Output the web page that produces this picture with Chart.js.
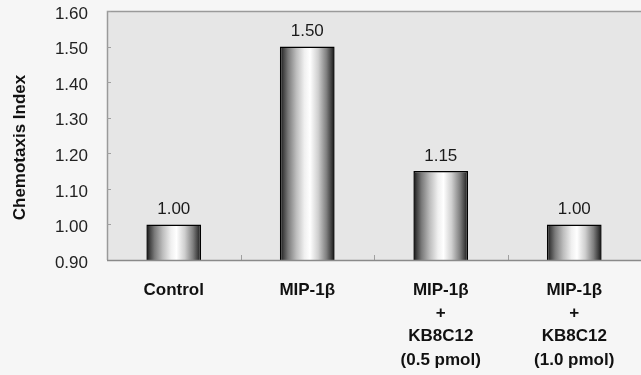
<!DOCTYPE html>
<html>
<head>
<meta charset="utf-8">
<script src="https://cdn.jsdelivr.net/npm/chart.js@4/dist/chart.umd.min.js"></script>
<style>
  html, body { margin: 0; padding: 0; background: #f6f6f6; overflow: hidden; }
  #wrap { width: 641px; height: 375px; }
</style>
</head>
<body>
<div id="wrap"><canvas id="c" width="641" height="375"></canvas></div>
<script>
const categories = [
  ['Control'],
  ['MIP-1β'],
  ['MIP-1β', '+', 'KB8C12', '(0.5 pmol)'],
  ['MIP-1β', '+', 'KB8C12', '(1.0 pmol)']
];
const chemotaxisIndex = [1.00, 1.50, 1.15, 1.00];
const yTicks = [0.90, 1.00, 1.10, 1.20, 1.30, 1.40, 1.50, 1.60];
const yTitle = 'Chemotaxis Index';

const FONT = '"Liberation Sans", Arial, Helvetica, sans-serif';
const BAR_PCT = 0.41;

function barGradient(ctx) {
  const chart = ctx.chart;
  const xs = chart.scales && chart.scales.x;
  if (!chart.chartArea || !xs) return '#aaaaaa';
  const cx = xs.getPixelForValue(ctx.dataIndex);
  const w = (xs.width / categories.length) * BAR_PCT;
  const g = chart.ctx.createLinearGradient(cx - w / 2, 0, cx + w / 2, 0);
  g.addColorStop(0.00, '#101010');
  g.addColorStop(0.06, '#404040');
  g.addColorStop(0.15, '#7a7a7a');
  g.addColorStop(0.30, '#bdbdbd');
  g.addColorStop(0.45, '#f0f0f0');
  g.addColorStop(0.55, '#ffffff');
  g.addColorStop(0.70, '#cfcfcf');
  g.addColorStop(0.85, '#808080');
  g.addColorStop(0.94, '#404040');
  g.addColorStop(1.00, '#111111');
  return g;
}

const plotFrame = {
  id: 'plotFrame',
  beforeDraw(chart) {
    const { ctx, chartArea: a } = chart;
    ctx.save();
    ctx.fillStyle = '#e6e6e6';
    ctx.fillRect(a.left, a.top, a.right - a.left, a.bottom - a.top);
    ctx.strokeStyle = '#9a9a9a';
    ctx.lineWidth = 1.5;
    ctx.beginPath();
    ctx.moveTo(a.right, a.top + 0.5);
    ctx.lineTo(a.left + 0.5, a.top + 0.5);
    ctx.lineTo(a.left + 0.5, a.bottom);
    ctx.stroke();
    ctx.strokeStyle = '#a0a0a0';
    ctx.lineWidth = 1;
    const ys = chart.scales.y;
    yTicks.forEach(v => {
      const py = Math.round(ys.getPixelForValue(v)) + 0.5;
      ctx.beginPath();
      ctx.moveTo(a.left, py);
      ctx.lineTo(a.left + 4, py);
      ctx.stroke();
    });
    const xs = chart.scales.x;
    for (let i = 1; i < categories.length; i++) {
      const px = Math.round((xs.getPixelForValue(i - 1) + xs.getPixelForValue(i)) / 2) + 0.5;
      ctx.beginPath();
      ctx.moveTo(px, a.bottom);
      ctx.lineTo(px, a.bottom - 5);
      ctx.stroke();
    }
    ctx.restore();
  },
  afterDatasetsDraw(chart) {
    const { ctx, chartArea: a } = chart;
    ctx.save();
    ctx.strokeStyle = '#8a8a8a';
    ctx.lineWidth = 1.5;
    ctx.beginPath();
    ctx.moveTo(a.left, a.bottom + 0.5);
    ctx.lineTo(a.right, a.bottom + 0.5);
    ctx.stroke();
    ctx.fillStyle = '#1a1a1a';
    ctx.font = '17px ' + FONT;
    ctx.textAlign = 'center';
    ctx.textBaseline = 'middle';
    const meta = chart.getDatasetMeta(0);
    meta.data.forEach((bar, i) => {
      ctx.fillText(chemotaxisIndex[i].toFixed(2), bar.x, bar.y - 15);
    });
    ctx.font = 'bold 17px ' + FONT;
    ctx.fillStyle = '#111111';
    ctx.translate(20, (a.top + a.bottom) / 2 + 12);
    ctx.rotate(-Math.PI / 2);
    ctx.fillText(yTitle, 0, 0);
    ctx.restore();
  }
};

new Chart(document.getElementById('c'), {
  type: 'bar',
  data: {
    labels: categories,
    datasets: [{
      data: chemotaxisIndex,
      backgroundColor: barGradient,
      borderColor: '#000000',
      borderWidth: 1.5,
      borderSkipped: false,
      barPercentage: BAR_PCT,
      categoryPercentage: 1.0
    }]
  },
  options: {
    responsive: false,
    animation: false,
    devicePixelRatio: 1,
    layout: { padding: { top: 11, right: 0, left: 0, bottom: 0 } },
    plugins: { legend: { display: false }, tooltip: { enabled: false } },
    scales: {
      x: {
        grid: { display: false, drawTicks: false },
        border: { display: false },
        ticks: {
          color: '#111111',
          font: { family: FONT, size: 17, weight: 'bold', lineHeight: 1.36 },
          padding: 19,
          maxRotation: 0,
          autoSkip: false
        },
        afterFit(scale) { scale.height = 115; scale.paddingLeft = 0; scale.paddingRight = 0; }
      },
      y: {
        min: 0.9,
        max: 1.6,
        grid: { display: false, drawTicks: false },
        border: { display: false },
        afterBuildTicks(scale) { scale.ticks = yTicks.map(v => ({ value: v })); },
        ticks: {
          color: '#222222',
          font: { family: FONT, size: 17 },
          padding: 19,
          labelOffset: 3,
          callback: v => Number(v).toFixed(2)
        },
        afterFit(scale) { scale.width = 107; scale.paddingTop = 0; scale.paddingBottom = 0; }
      }
    }
  },
  plugins: [plotFrame]
});
</script>
</body>
</html>
